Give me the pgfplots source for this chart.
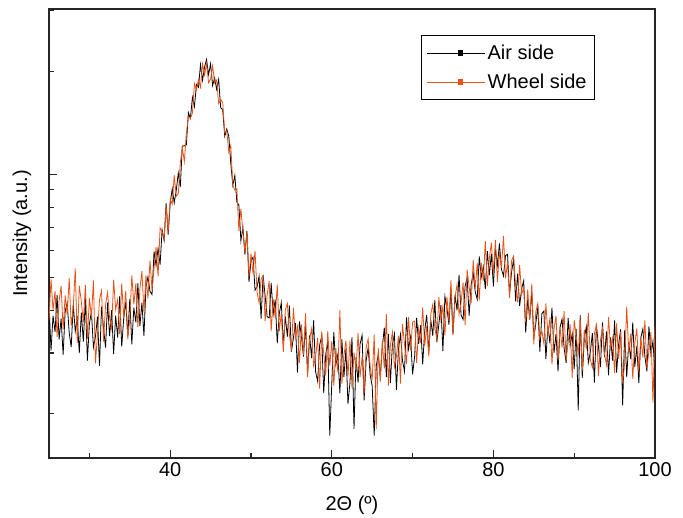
\documentclass[border=0pt]{standalone}
\usepackage{fontspec}
\setmainfont{Liberation Sans}
\usepackage{pgfplots}
\usepackage{pgfplotstable}
\pgfplotsset{compat=1.18}
\definecolor{wheel}{RGB}{235,80,20}
\newcommand{\chartfont}{\fontsize{15}{18}\selectfont}

\begin{document}

% Air side (black)
\pgfplotstableread[row sep=\\]{
x y\\
25 419\\ 25.25 305\\ 25.5 386\\ 25.75 346\\ 26 443\\ 26.25 329\\ 26.5 378\\ 26.75 297\\ 27 397\\ 27.25 421\\
27.5 344\\ 27.75 312\\ 28 417\\ 28.25 347\\ 28.5 378\\ 28.75 300\\ 29 394\\ 29.25 324\\ 29.5 433\\ 29.75 285\\
30 365\\ 30.25 396\\ 30.5 312\\ 30.75 335\\ 31 383\\ 31.25 275\\ 31.5 410\\ 31.75 355\\ 32 311\\ 32.25 421\\
32.5 336\\ 32.75 400\\ 33 298\\ 33.25 386\\ 33.5 333\\ 33.75 440\\ 34 313\\ 34.25 380\\ 34.5 424\\ 34.75 336\\
35 432\\ 35.25 318\\ 35.5 407\\ 35.75 369\\ 36 479\\ 36.25 360\\ 36.5 421\\ 36.75 337\\ 37 468\\
37.25 501\\ 37.5 454\\ 37.75 445\\ 38 594\\ 38.25 541\\ 38.5 607\\ 38.75 544\\ 39 688\\ 39.25 640\\ 39.5 822\\
39.75 666\\ 40 822\\ 40.25 906\\ 40.5 824\\ 40.75 897\\ 41 1007\\ 41.25 917\\ 41.5 1209\\ 41.75 1210\\ 42 1217\\
42.25 1514\\ 42.5 1456\\ 42.75 1676\\ 43 1575\\ 43.25 1828\\ 43.5 1795\\ 43.75 2092\\ 44 1881\\ 44.25 2057\\ 44.5 2164\\
44.75 1954\\ 45 2102\\ 45.25 1816\\ 45.5 1913\\ 45.75 1771\\ 46 1893\\ 46.25 1563\\ 46.5 1545\\ 46.75 1292\\ 47 1355\\
47.25 1292\\ 47.5 1075\\ 47.75 928\\ 48 991\\ 48.25 829\\ 48.5 812\\ 48.75 639\\ 49 699\\ 49.25 582\\ 49.5 683\\
49.75 484\\ 50 558\\ 50.25 572\\ 50.5 458\\ 50.75 468\\ 51 503\\ 51.25 378\\ 51.5 507\\ 51.75 440\\ 52 383\\
52.25 380\\ 52.5 480\\ 52.75 390\\ 53 430\\ 53.25 320\\ 53.5 391\\ 53.75 421\\ 54 317\\ 54.25 384\\ 54.5 335\\
54.75 413\\ 55 303\\ 55.25 332\\ 55.5 367\\ 55.75 263\\ 56 371\\ 56.25 334\\ 56.5 293\\ 56.75 364\\ 57 261\\
57.25 338\\ 57.5 290\\ 57.75 374\\ 58 264\\ 58.25 248\\ 58.5 317\\ 58.75 336\\ 59 229\\ 59.25 297\\ 59.5 324\\
59.75 172\\ 60 244\\ 60.25 345\\ 60.5 277\\ 60.75 297\\ 61 229\\ 61.25 329\\ 61.5 255\\ 61.75 308\\ 62 213\\
62.25 246\\ 62.5 334\\ 62.75 180\\ 63 292\\ 63.25 246\\ 63.5 319\\ 63.75 338\\ 64 218\\ 64.25 285\\ 64.5 311\\
64.75 259\\ 65 240\\ 65.25 172\\ 65.5 275\\ 65.75 297\\ 66 256\\ 66.25 312\\ 66.5 356\\ 66.75 255\\ 67 341\\
67.25 245\\ 67.5 317\\ 67.75 341\\ 68 234\\ 68.25 308\\ 68.5 340\\ 68.75 285\\ 69 265\\ 69.25 381\\ 69.5 308\\
69.75 334\\ 70 260\\
70.25 293\\ 70.5 380\\ 70.75 319\\ 71 362\\ 71.25 278\\ 71.5 349\\ 71.75 388\\ 72 301\\ 72.25 375\\ 72.5 337\\
72.75 428\\ 73 323\\ 73.25 364\\ 73.5 414\\ 73.75 304\\ 74 439\\ 74.25 406\\ 74.5 363\\ 74.75 464\\ 75 340\\
75.25 444\\ 75.5 400\\ 75.75 508\\ 76 387\\ 76.25 376\\ 76.5 471\\ 76.75 497\\ 77 386\\ 77.25 476\\ 77.5 513\\
77.75 453\\ 78 431\\ 78.25 575\\ 78.5 500\\ 78.75 536\\ 79 461\\ 79.25 596\\ 79.5 507\\ 79.75 585\\ 80 470\\
80.25 607\\ 80.5 542\\ 80.75 627\\ 81 527\\ 81.25 504\\ 81.5 578\\ 81.75 583\\ 82 447\\ 82.25 518\\ 82.5 564\\
82.75 425\\ 83 512\\ 83.25 412\\ 83.5 463\\ 83.75 488\\ 84 344\\ 84.25 431\\ 84.5 376\\ 84.75 456\\ 85 331\\
85.25 366\\ 85.5 411\\ 85.75 303\\ 86 391\\
86.25 398\\ 86.5 288\\ 86.75 361\\ 87 320\\ 87.25 407\\ 87.5 300\\ 87.75 341\\ 88 265\\ 88.25 357\\ 88.5 377\\
88.75 311\\ 89 281\\ 89.25 380\\ 89.5 315\\ 89.75 341\\ 90 269\\ 90.25 353\\ 90.5 204\\ 90.75 387\\ 91 254\\
91.25 331\\ 91.5 358\\ 91.75 281\\ 92 302\\ 92.25 343\\ 92.5 246\\ 92.75 364\\ 93 314\\ 93.25 273\\ 93.5 369\\
93.75 292\\ 94 347\\ 94.25 258\\ 94.5 333\\ 94.75 285\\ 95 374\\ 95.25 263\\ 95.5 318\\ 95.75 352\\ 96 211\\
96.25 350\\ 96.5 255\\ 96.75 323\\ 97 288\\ 97.25 369\\ 97.5 273\\ 97.75 314\\ 98 245\\ 98.25 333\\ 98.5 353\\
98.75 293\\ 99 265\\ 99.25 359\\ 99.5 298\\ 99.75 325\\ 100 258\\
}\airside

% Wheel side (orange)
\pgfplotstableread[row sep=\\]{
x y\\
25 374\\ 25.25 494\\ 25.5 400\\ 25.75 455\\ 26 334\\ 26.25 426\\ 26.5 471\\ 26.75 352\\ 27 442\\ 27.25 388\\
27.5 497\\ 27.75 360\\ 28 406\\ 28.25 530\\ 28.5 321\\ 28.75 472\\ 29 425\\ 29.25 369\\ 29.5 474\\ 29.75 330\\
30 435\\ 30.25 382\\ 30.5 489\\ 30.75 280\\ 31 340\\ 31.25 429\\ 31.5 456\\ 31.75 324\\ 32 414\\ 32.25 451\\
32.5 380\\ 32.75 354\\ 33 491\\ 33.25 402\\ 33.5 430\\ 33.75 340\\ 34 479\\ 34.25 380\\ 34.5 456\\ 34.75 329\\
35 378\\ 35.25 506\\ 35.5 416\\ 35.75 479\\ 36 357\\ 36.25 462\\ 36.5 521\\ 36.75 395\\ 37 506\\
37.25 433\\ 37.5 560\\ 37.75 458\\ 38 531\\ 38.25 612\\ 38.5 503\\ 38.75 696\\ 39 679\\ 39.25 650\\ 39.5 807\\
39.75 678\\ 40 843\\ 40.25 818\\ 40.5 993\\ 40.75 862\\ 41 877\\ 41.25 1077\\ 41.5 1197\\ 41.75 1090\\ 42 1314\\
42.25 1471\\ 42.5 1456\\ 42.75 1509\\ 43 1841\\ 43.25 1764\\ 43.5 1893\\ 43.75 1796\\ 44 2098\\ 44.25 1952\\ 44.5 2109\\
44.75 1850\\ 45 1896\\ 45.25 2073\\ 45.5 1847\\ 45.75 1885\\ 46 1607\\ 46.25 1655\\ 46.5 1619\\ 46.75 1321\\ 47 1341\\
47.25 1160\\ 47.5 1214\\ 47.75 928\\ 48 898\\ 48.25 906\\ 48.5 683\\ 48.75 792\\ 49 680\\ 49.25 591\\ 49.5 675\\
49.75 501\\ 50 586\\ 50.25 512\\ 50.5 597\\ 50.75 452\\ 51 421\\ 51.25 493\\ 51.5 505\\ 51.75 372\\ 52 443\\
52.25 487\\ 52.5 348\\ 52.75 432\\ 53 378\\ 53.25 476\\ 53.5 347\\ 53.75 391\\ 54 302\\ 54.25 401\\ 54.5 419\\
54.75 341\\ 55 305\\ 55.25 407\\ 55.5 333\\ 55.75 358\\ 56 281\\ 56.25 364\\ 56.5 296\\ 56.75 392\\ 57 255\\
57.25 329\\ 57.5 353\\ 57.75 275\\ 58 293\\ 58.25 332\\ 58.5 236\\ 58.75 347\\ 59 299\\ 59.25 258\\ 59.5 348\\
59.75 275\\ 60 325\\ 60.25 241\\ 60.5 310\\ 60.75 264\\ 61 400\\ 61.25 244\\ 61.5 295\\ 61.75 326\\ 62 256\\
62.25 326\\ 62.5 237\\ 62.75 301\\ 63 268\\ 63.25 344\\ 63.5 255\\ 63.75 292\\ 64 229\\ 64.25 311\\ 64.5 330\\
64.75 274\\ 65 250\\ 65.25 340\\ 65.5 180\\ 65.75 310\\ 66 247\\ 66.25 326\\ 66.5 270\\ 66.75 390\\ 67 241\\
67.25 316\\ 67.5 345\\ 67.75 273\\ 68 293\\ 68.25 337\\ 68.5 244\\ 68.75 365\\ 69 319\\ 69.25 279\\ 69.5 382\\
69.75 306\\ 70 369\\
70.25 372\\ 70.5 281\\ 70.75 353\\ 71 321\\ 71.25 408\\ 71.5 314\\ 71.75 360\\ 72 293\\ 72.25 390\\ 72.5 416\\
72.75 355\\ 73 329\\ 73.25 438\\ 73.5 375\\ 73.75 411\\ 74 338\\ 74.25 438\\ 74.5 371\\ 74.75 490\\ 75 339\\
75.25 436\\ 75.5 476\\ 75.75 389\\ 76 421\\ 76.25 482\\ 76.5 362\\ 76.75 526\\ 77 469\\ 77.25 419\\ 77.5 561\\
77.75 462\\ 78 550\\ 78.25 428\\ 78.5 551\\ 78.75 488\\ 79 637\\ 79.25 471\\ 79.5 567\\ 79.75 631\\ 80 514\\
80.25 642\\ 80.5 484\\ 80.75 594\\ 81 532\\ 81.25 660\\ 81.5 496\\ 81.75 552\\ 82 435\\ 82.25 559\\ 82.5 576\\
82.75 472\\ 83 422\\ 83.25 542\\ 83.5 445\\ 83.75 467\\ 84 368\\ 84.25 460\\ 84.5 375\\ 84.75 478\\ 85 318\\
85.25 396\\ 85.5 419\\ 85.75 331\\ 86 348\\
86.25 320\\ 86.5 419\\ 86.75 337\\ 87 381\\ 87.25 278\\ 87.5 352\\ 87.75 386\\ 88 285\\ 88.25 357\\ 88.5 311\\
88.75 398\\ 89 286\\ 89.25 322\\ 89.5 364\\ 89.75 254\\ 90 374\\ 90.25 338\\ 90.5 295\\ 90.75 380\\ 91 266\\
91.25 351\\ 91.5 308\\ 91.75 393\\ 92 287\\ 92.25 272\\ 92.5 342\\ 92.75 363\\ 93 257\\ 93.25 327\\ 93.5 355\\
93.75 298\\ 94 277\\ 94.25 382\\ 94.5 311\\ 94.75 332\\ 95 262\\ 95.25 366\\ 95.5 289\\ 95.75 345\\ 96 246\\
96.25 281\\ 96.5 410\\ 96.75 301\\ 97 342\\ 97.25 252\\ 97.5 320\\ 97.75 354\\ 98 264\\ 98.25 333\\ 98.5 291\\
98.75 374\\ 99 270\\ 99.25 304\\ 99.5 345\\ 99.75 215\\ 100 359\\
}\wheelside

\begin{tikzpicture}
  % fixed page size: 683x518 px at 0.75pt per px
  \path[use as bounding box] (-36.75pt,-45pt) rectangle (475.5pt,343.5pt);
  \begin{axis}[
      scale only axis,
      width=454.5pt, height=336.75pt,
      at={(0pt,0pt)}, anchor=south west,
      ymode=log,
      xmin=25, xmax=100,
      ymin=148, ymax=3040,
      xtick={40,60,80,100},
      minor xtick={30,50,70,90},
      ytick={1000},
      minor ytick={200,300,400,500,600,700,800,900,2000,3000},
      xtick pos=bottom, ytick pos=left,
      tick align=inside,
      major tick length=6pt, minor tick length=3.5pt,
      yticklabels={},
      axis line style={line width=0.8pt, black!85},
      every tick/.style={line width=0.8pt, black!85},
      /pgf/number format/assume math mode=true,
      tick label style={font=\chartfont},
      xlabel={2Θ (º)},
      ylabel={Intensity (a.u.)},
      every axis x label/.style={at={(axis description cs:0.5,-0.105)}, anchor=center, font=\chartfont},
      every axis y label/.style={at={(axis description cs:-0.0446,0.5)}, rotate=90, anchor=center, font=\chartfont},
      legend style={at={(0.901,0.942)}, anchor=north east, draw=black, line width=0.6pt,
        font=\chartfont, inner xsep=4pt, inner ysep=5pt, row sep=5.5pt},
      legend cell align=left,
      legend image code/.code={
        \path (0pt,0pt) -- (43pt,0pt);
        \draw[#1] (6.5pt,0pt) -- (43pt,0pt);
        \fill[#1] (23.1pt,-1.7pt) rectangle (26.5pt,1.7pt);
      },
  ]
    \addplot[color=black, line width=0.6pt] table[x=x, y=y] {\airside};
    \addlegendentry{Air side}
    \addplot[color=wheel, line width=0.6pt] table[x=x, y=y] {\wheelside};
    \addlegendentry{Wheel side}
  \end{axis}
\end{tikzpicture}

\end{document}
